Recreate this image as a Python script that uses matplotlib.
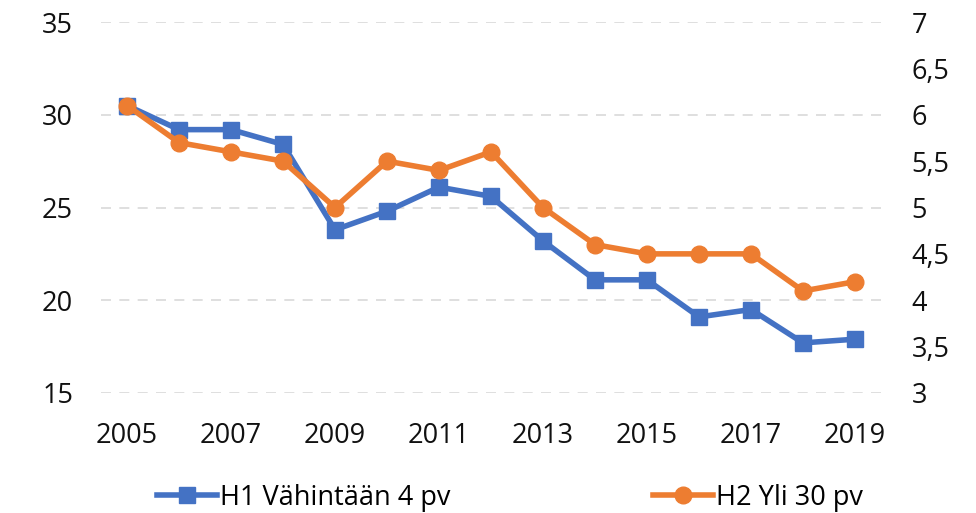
import matplotlib.pyplot as plt

plt.rcParams['font.family'] = ['Open Sans', 'DejaVu Sans']

years = [2005, 2006, 2007, 2008, 2009, 2010, 2011, 2012, 2013, 2014, 2015, 2016, 2017, 2018, 2019]
h1 = [30.5, 29.2, 29.2, 28.4, 23.8, 24.8, 26.1, 25.6, 23.2, 21.1, 21.1, 19.1, 19.5, 17.7, 17.9]
h2 = [6.1, 5.7, 5.6, 5.5, 5.0, 5.5, 5.4, 5.6, 5.0, 4.6, 4.5, 4.5, 4.5, 4.1, 4.2]
left_ticks = [15, 20, 25, 30, 35]
right_ticks = [3, 3.5, 4, 4.5, 5, 5.5, 6, 6.5, 7]
right_labels = ['3', '3,5', '4', '4,5', '5', '5,5', '6', '6,5', '7']

blue = '#4472C4'
orange = '#ED7D31'

fig = plt.figure(figsize=(9.76, 5.13), dpi=100)
ax = fig.add_axes([0.1035, 0.234, 0.7992, 0.723])
ax2 = ax.twinx()

l1, = ax.plot(years, h1, color=blue, lw=4, marker='s', ms=11, label='H1 Vähintään 4 pv', zorder=3)
l2, = ax2.plot(years, h2, color=orange, lw=4, marker='o', ms=12, label='H2 Yli 30 pv', zorder=3)

ax.set_xlim(2004.5, 2019.5)
ax.set_ylim(15, 35)
ax2.set_ylim(3, 7)
ax.set_yticks(left_ticks)
ax2.set_yticks(right_ticks)
ax2.set_yticklabels(right_labels)
ax.set_xticks(years[::2])

for a in (ax, ax2):
    for s in a.spines.values():
        s.set_visible(False)
    a.tick_params(length=0, labelsize=19.5, colors='#111111')
ax.tick_params(axis='y', pad=20)
ax2.tick_params(axis='y', pad=22)
ax.tick_params(axis='x', pad=21)

ax.grid(axis='y', color='#D9D9D9', lw=1.2, ls=(0, (6, 5)))
ax.set_axisbelow(True)
# orange series drawn above blue like the reference
ax2.set_zorder(ax.get_zorder() + 1)
ax2.patch.set_visible(False)

fig.legend(handles=[l1, l2], loc='center', bbox_to_anchor=(0.5225, 0.03), ncol=2,
           frameon=False, fontsize=19.5, columnspacing=7.5, handlelength=2.2,
           handletextpad=0.1)

fig.savefig('out.png', dpi=100)
